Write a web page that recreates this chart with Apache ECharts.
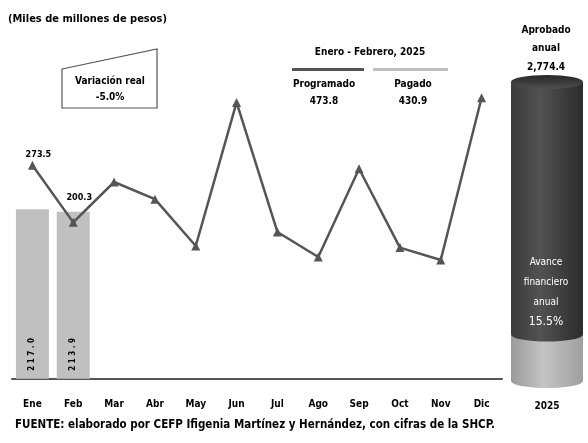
<!DOCTYPE html>
<html>
<head>
<meta charset="utf-8">
<script src="https://cdn.jsdelivr.net/npm/echarts@6/dist/echarts.min.js"></script>
<style>
html, body { margin: 0; padding: 0; background: #fff; }
#main { width: 588px; height: 443px; }
</style>
</head>
<body>
<div id="main"></div>
<script>
// meses y valores (miles de millones de pesos)
var meses = ['Ene', 'Feb', 'Mar', 'Abr', 'May', 'Jun', 'Jul', 'Ago', 'Sep', 'Oct', 'Nov', 'Dic'];
var programado = [273.5, 200.3, 252, 230, 170, 354, 188, 156, 269, 168, 152, 360];
var pagado = [217.0, 213.9, null, null, null, null, null, null, null, null, null, null];
var anio = ['2025'];
var aprobadoAnual = [2774.4];
var pagadoAcum = [430.9];

var FONT = "'Liberation Sans Narrow', 'DejaVu Sans Condensed', 'Noto Sans', sans-serif";

function draw_chart(id){
    var myChart = echarts.init(document.getElementById(id));
    var restante = [aprobadoAnual[0] - pagadoAcum[0]];
    var grisClaro = new echarts.graphic.LinearGradient(0, 0, 1, 0, [
        { offset: 0, color: '#9a9a9a' }, { offset: 0.45, color: '#c4c4c4' }, { offset: 1, color: '#a0a0a0' }
    ]);
    var grisOscuro = new echarts.graphic.LinearGradient(0, 0, 1, 0, [
        { offset: 0, color: '#3a3a3a' }, { offset: 0.4, color: '#525252' }, { offset: 1, color: '#2c2c2c' }
    ]);
    var option = {
    animation: false,
    textStyle: { fontFamily: FONT },
    grid: [
        { left: 12, right: 86, top: 66.5, bottom: 64.3 },
        { left: 511, width: 72, top: 82, bottom: 62 }
    ],
    xAxis: [
        {
            type: 'category',
            data: meses,
            axisLine: { lineStyle: { color: '#555', width: 2 } },
            axisTick: { show: false },
            axisLabel: { color: '#000', fontSize: 10, fontWeight: 'bold', margin: 21, fontFamily: FONT }
        },
        {
            type: 'category',
            gridIndex: 1,
            data: anio,
            axisLine: { show: false },
            axisTick: { show: false },
            axisLabel: { color: '#000', fontSize: 10, fontWeight: 'bold', margin: 20, fontFamily: FONT }
        }
    ],
    yAxis: [
        { type: 'value', min: 0, max: 400, show: false, splitLine: { show: false } },
        { type: 'value', gridIndex: 1, min: 0, max: aprobadoAnual[0], show: false, splitLine: { show: false } }
    ],
    series: [
        {
            name: 'Pagado',
            type: 'bar',
            data: pagado,
            barWidth: 33,
            itemStyle: { color: '#c0c0c0' },
            label: {
                show: true,
                position: 'insideBottom',
                rotate: 90,
                align: 'left',
                verticalAlign: 'middle',
                distance: 8,
                color: '#000',
                fontSize: 8,
                fontWeight: 'bold',
                fontFamily: FONT,
                formatter: function (p) { return p.value.toFixed(1).split('').join(' '); }
            }
        },
        {
            name: 'Programado',
            type: 'line',
            data: programado.map(function (v, i) {
                if (i === 0) return { value: v, label: { show: true, distance: 2, offset: [6, 0] } };
                if (i === 1) return { value: v, label: { show: true, distance: 16, offset: [6, 0] } };
                return v;
            }),
            symbol: 'triangle',
            symbolSize: 9,
            lineStyle: { color: '#555', width: 2.5 },
            itemStyle: { color: '#555' },
            label: {
                show: false,
                position: 'top',
                color: '#000',
                fontSize: 9,
                fontWeight: 'bold',
                fontFamily: FONT,
                formatter: function (p) { return p.value.toFixed(1); }
            },
            z: 3
        },
        {
            name: 'Avance',
            type: 'bar',
            xAxisIndex: 1, yAxisIndex: 1,
            stack: 'cil',
            data: pagadoAcum,
            barWidth: '100%',
            itemStyle: { color: grisClaro },
            z: 2
        },
        {
            name: 'Restante',
            type: 'bar',
            xAxisIndex: 1, yAxisIndex: 1,
            stack: 'cil',
            data: restante,
            barWidth: '100%',
            itemStyle: { color: grisOscuro },
            z: 2
        },
        {
            // fondo del cilindro
            type: 'pictorialBar',
            xAxisIndex: 1, yAxisIndex: 1,
            data: pagadoAcum,
            symbol: 'circle',
            symbolSize: [72, 14],
            symbolPosition: 'start',
            symbolOffset: [0, '50%'],
            clip: false,
            itemStyle: { color: grisClaro },
            z: 1
        },
        {
            // borde inferior de la parte oscura
            type: 'pictorialBar',
            xAxisIndex: 1, yAxisIndex: 1,
            data: pagadoAcum,
            symbol: 'circle',
            symbolSize: [72, 14],
            symbolPosition: 'end',
            symbolOffset: [0, '-50%'],
            clip: false,
            itemStyle: { color: grisOscuro },
            z: 3
        },
        {
            // tapa superior
            type: 'pictorialBar',
            xAxisIndex: 1, yAxisIndex: 1,
            data: aprobadoAnual,
            symbol: 'circle',
            symbolSize: [72, 14],
            symbolPosition: 'end',
            symbolOffset: [0, '-50%'],
            clip: false,
            itemStyle: { color: new echarts.graphic.LinearGradient(0, 0, 0, 1, [
                { offset: 0, color: '#262626' }, { offset: 1, color: '#505050' }
            ]) },
            z: 4
        }
    ],
    graphic: [
        { type: 'text', left: 8, top: 14, style: { text: '(Miles de millones de pesos)', font: 'bold 11px ' + FONT, fill: '#000' } },
        { type: 'polygon', shape: { points: [[62, 69], [157, 49], [157, 108], [62, 108]] },
          style: { fill: '#fff', stroke: '#555', lineWidth: 1.2 } },
        { type: 'text', x: 110, y: 81, style: { text: 'Variación real', font: 'bold 10px ' + FONT, fill: '#000', align: 'center', verticalAlign: 'middle' } },
        { type: 'text', x: 110, y: 97, style: { text: '-5.0%', font: 'bold 10px ' + FONT, fill: '#000', align: 'center', verticalAlign: 'middle' } },
        { type: 'text', x: 370, y: 52, style: { text: 'Enero - Febrero, 2025', font: 'bold 10px ' + FONT, fill: '#000', align: 'center', verticalAlign: 'middle' } },
        { type: 'line', shape: { x1: 292, y1: 69.5, x2: 364, y2: 69.5 }, style: { stroke: '#555', lineWidth: 3 } },
        { type: 'line', shape: { x1: 373, y1: 69.5, x2: 448, y2: 69.5 }, style: { stroke: '#c0c0c0', lineWidth: 3 } },
        { type: 'text', x: 324, y: 84, style: { text: 'Programado', font: 'bold 10px ' + FONT, fill: '#000', align: 'center', verticalAlign: 'middle' } },
        { type: 'text', x: 324, y: 101, style: { text: '473.8', font: 'bold 10px ' + FONT, fill: '#000', align: 'center', verticalAlign: 'middle' } },
        { type: 'text', x: 413, y: 84, style: { text: 'Pagado', font: 'bold 10px ' + FONT, fill: '#000', align: 'center', verticalAlign: 'middle' } },
        { type: 'text', x: 413, y: 101, style: { text: '430.9', font: 'bold 10px ' + FONT, fill: '#000', align: 'center', verticalAlign: 'middle' } },
        { type: 'text', x: 546, y: 30, style: { text: 'Aprobado', font: 'bold 10px ' + FONT, fill: '#000', align: 'center', verticalAlign: 'middle' } },
        { type: 'text', x: 546, y: 48, style: { text: 'anual', font: 'bold 10px ' + FONT, fill: '#000', align: 'center', verticalAlign: 'middle' } },
        { type: 'text', x: 546, y: 67, style: { text: '2,774.4', font: 'bold 10px ' + FONT, fill: '#000', align: 'center', verticalAlign: 'middle' } },
        { type: 'text', x: 546, y: 262, z: 10, style: { text: 'Avance', font: '10px ' + FONT, fill: '#fff', align: 'center', verticalAlign: 'middle' } },
        { type: 'text', x: 546, y: 282, z: 10, style: { text: 'financiero', font: '10px ' + FONT, fill: '#fff', align: 'center', verticalAlign: 'middle' } },
        { type: 'text', x: 546, y: 302, z: 10, style: { text: 'anual', font: '10px ' + FONT, fill: '#fff', align: 'center', verticalAlign: 'middle' } },
        { type: 'text', x: 546, y: 322, z: 10, style: { text: '15.5%', font: '12px ' + FONT, fill: '#fff', align: 'center', verticalAlign: 'middle' } },
        { type: 'text', left: 15, top: 419, style: { text: 'FUENTE: elaborado por CEFP Ifigenia Martínez y Hernández, con cifras de la SHCP.', font: 'bold 11.5px ' + FONT, fill: '#000' } }
    ]
};
    myChart.setOption(option);
}

draw_chart('main');
</script>
</body>
</html>
